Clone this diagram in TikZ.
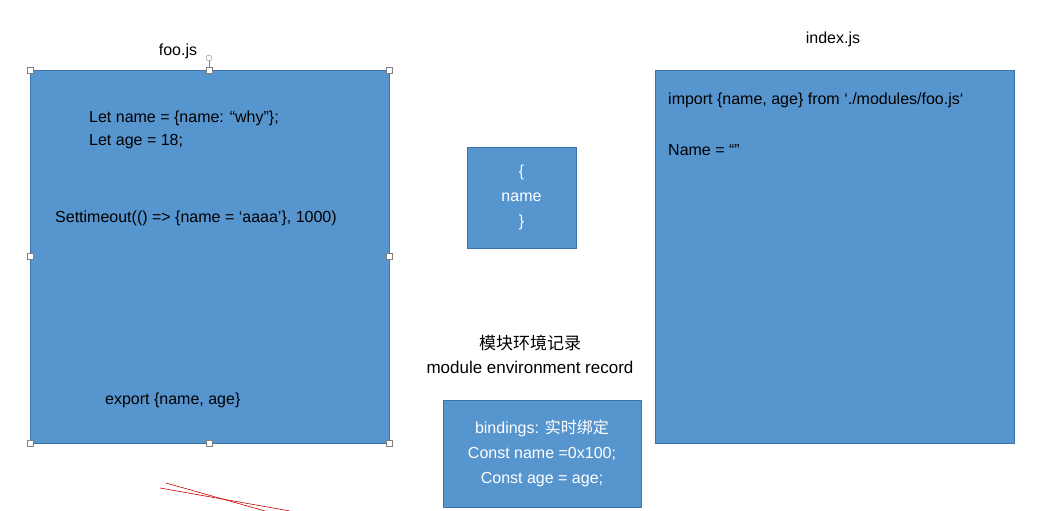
\documentclass[tikz,border=0pt]{standalone}
\usepackage{fontspec}
\setmainfont{Liberation Sans}
\newfontfamily\cjk{Noto Sans CJK SC}
\definecolor{boxblue}{HTML}{5795CF}
\definecolor{boxedge}{HTML}{3F72A8}
\begin{document}
\begin{tikzpicture}[x=1pt,y=-1pt,
  bluebox/.style={fill=boxblue,draw=boxedge,line width=0.8pt},
  handle/.style={draw=gray,fill=white,minimum size=6pt,inner sep=0pt,line width=0.5pt},
  txt/.style={font=\fontsize{16}{19}\selectfont,inner sep=0pt,anchor=west},
  wtxt/.style={font=\fontsize{16}{25}\selectfont,text=white,align=center,inner sep=0pt}]
\useasboundingbox (0,0) rectangle (1042,511);
% left box
\path[bluebox] (30,70) rectangle (389,443);
\node[font=\fontsize{16}{19}\selectfont] (foolabel) at (178,51) {foo.js};
\coordinate (rot) at (209,58);
\draw[gray,line width=0.5pt] (rot) -- (209,70);
\node[draw=gray,circle,fill=white,minimum size=6pt,inner sep=0pt] (roth) at (rot) {};
\foreach \x/\y [count=\i] in {30/70,209/70,389/70,30/256,389/256,30/443,209/443,389/443}
  \node[handle] (h\i) at (\x,\y) {};
\node[txt] (l1) at (89,118) {Let name = \{name: “why”\};};
\node[txt] (l2) at (89,142) {Let age = 18;};
\node[txt] (l3) at (55,218) {Settimeout(() => \{name = ‘aaaa’\}, 1000)};
\node[txt] (l4) at (105,400) {export \{name, age\}};
% middle box
\path[bluebox] (467,147) rectangle (576,248);
\node[wtxt] (mid) at (521.5,197.5) {\{\\name\\\}};
% record label
\node[font=\fontsize{17}{24}\selectfont,align=center] (rec) at (530,354) {{\cjk 模块环境记录}\\module environment record};
% bindings box
\path[bluebox] (443,400) rectangle (641,507);
\node[wtxt] (bind) at (542,453) {bindings: {\cjk 实时绑定}\\Const name =0x100;\\Const age = age;};
% right box
\node[font=\fontsize{16}{19}\selectfont] (idxlabel) at (833,39) {index.js};
\path[bluebox] (655,70) rectangle (1014,443);
\node[txt] (r1) at (668,100) {import \{name, age\} from ‘./modules/foo.js‘};
\node[txt] (r2) at (668,150) {Name = “”};
% red strokes
\coordinate (ra) at (160,488); \coordinate (rb) at (290,511);
\coordinate (rc) at (166,483); \coordinate (rd) at (265,511);
\draw[red!80!black,line width=0.6pt] (ra) -- (rb);
\draw[red!80!black,line width=0.6pt] (rc) -- (rd);
\end{tikzpicture}
\end{document}
